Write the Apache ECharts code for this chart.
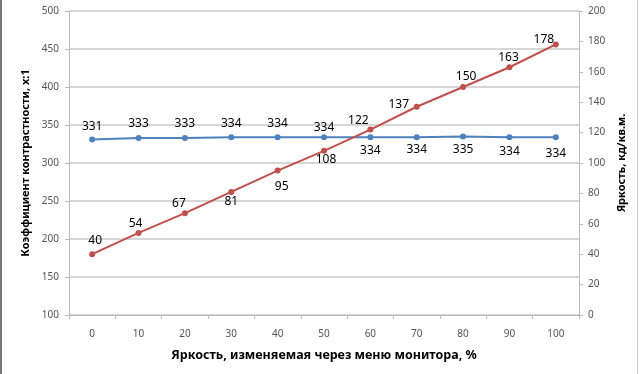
<!DOCTYPE html>
<html><head><meta charset="utf-8">
<script src="https://cdn.jsdelivr.net/npm/echarts@6/dist/echarts.min.js"></script>
<style>html,body{margin:0;padding:0;background:#fff}#c{width:640px;height:374px}</style>
</head><body><div id="c"></div>
<script>
const categories = ['0','10','20','30','40','50','60','70','80','90','100'];
const contrast = [331,333,333,334,334,334,334,334,335,334,334];
const brightness = [40,54,67,81,95,108,122,137,150,163,178];
const xName = 'Яркость, изменяемая через меню монитора, %';
const yLeftName = 'Коэффициент контрастности, х:1';
const yRightName = 'Яркость, кд/кв.м.';

// label offsets from each point (style only)
const contrastOff = [[0,-13],[0,-14],[0,-14],[0,-14],[0,-14],[0,-10],[0,13],[0,12],[0,13],[0,14],[0,16]];
const brightOff = [[3,-14],[-3,-9],[-6,-10],[0,10],[4,16],[2,9],[-12,-9],[-18,-2],[3,-10],[-1,-10],[-12,-5]];

const chart = echarts.init(document.getElementById('c'));
const labelFont = {fontFamily:'Noto Sans, sans-serif', fontSize:12, color:'#000'};
const tickLabel = {fontFamily:'Noto Sans, sans-serif', fontSize:10, color:'#555'};
const nameStyle = {fontFamily:'Noto Sans, sans-serif', fontWeight:'bold', color:'#000'};

chart.setOption({
  animation:false,
  grid:{left:69, right:61, top:11, bottom:59},
  graphic:[
    {type:'line', shape:{x1:1,y1:0,x2:1,y2:374}, style:{stroke:'#777', lineWidth:2}},
    {type:'line', shape:{x1:637.5,y1:0,x2:637.5,y2:374}, style:{stroke:'#ccc', lineWidth:1}}
  ],
  xAxis:{
    type:'category', data:categories, boundaryGap:true,
    name:xName, nameLocation:'middle', nameGap:34, nameTextStyle:Object.assign({fontSize:12.5}, nameStyle),
    axisLine:{lineStyle:{color:'#bbb'}},
    axisTick:{show:true, length:4, lineStyle:{color:'#bbb'}},
    axisLabel:Object.assign({margin:14}, tickLabel),
    splitLine:{show:false}
  },
  yAxis:[
    {type:'value', min:100, max:500, interval:50, position:'left',
     name:yLeftName, nameLocation:'middle', nameGap:21, nameTextStyle:Object.assign({fontSize:11}, nameStyle),
     axisLine:{show:true, lineStyle:{color:'#bbb'}},
     axisTick:{show:true, length:4, lineStyle:{color:'#bbb'}},
     axisLabel:Object.assign({margin:10}, tickLabel),
     splitLine:{show:true, lineStyle:{color:'#c8c8c8', width:1.5}}},
    {type:'value', min:0, max:200, interval:20, position:'right',
     name:yRightName, nameLocation:'middle', nameGap:37, nameTextStyle:Object.assign({fontSize:11}, nameStyle),
     axisLine:{show:true, lineStyle:{color:'#bbb'}},
     axisTick:{show:true, length:4, lineStyle:{color:'#bbb'}},
     axisLabel:Object.assign({margin:9}, tickLabel),
     splitLine:{show:false}}
  ],
  series:[
    {type:'line', name:'contrast', yAxisIndex:0,
     data:contrast.map((v,i)=>({value:v, label:{offset:contrastOff[i]}})),
     symbol:'circle', symbolSize:6,
     itemStyle:{color:'#4F81BD'}, lineStyle:{color:'#4F81BD', width:2},
     label:Object.assign({show:true, position:'inside'}, labelFont)},
    {type:'line', name:'brightness', yAxisIndex:1,
     data:brightness.map((v,i)=>({value:v, label:{offset:brightOff[i]}})),
     symbol:'circle', symbolSize:6,
     itemStyle:{color:'#C0504D'}, lineStyle:{color:'#C0504D', width:2},
     label:Object.assign({show:true, position:'inside'}, labelFont)}
  ]
});
</script></body></html>
